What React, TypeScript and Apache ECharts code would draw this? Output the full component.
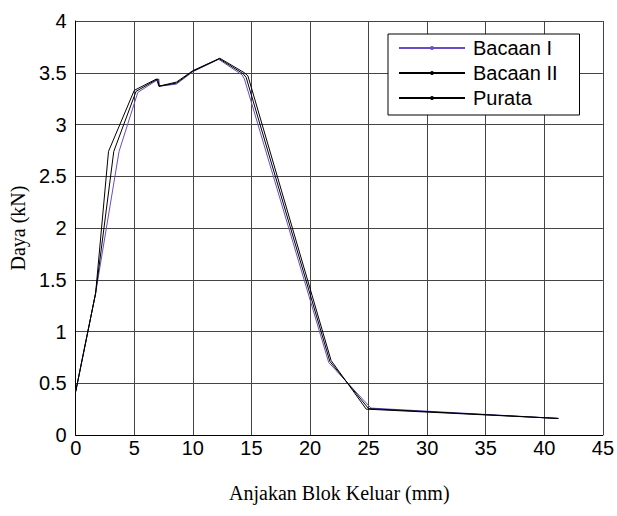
import React, { useEffect, useRef } from "react";
import * as echarts from "echarts";

const seriesNames = ["Bacaan I", "Bacaan II", "Purata"];

const xBacaanI = [0, 1.7, 3.7, 5.3, 7.1, 7.15, 8.6, 10, 12.2, 14.2, 14.4, 21.6, 25.2, 41.2];
const yBacaanI = [0.42, 1.37, 2.74, 3.31, 3.44, 3.37, 3.39, 3.51, 3.63, 3.48, 3.44, 0.7, 0.26, 0.16];

const xBacaanII = [0, 1.7, 2.8, 5.0, 6.9, 7.1, 8.6, 10, 12.3, 14.4, 14.7, 21.8, 24.8, 41.2];
const yBacaanII = [0.42, 1.37, 2.74, 3.33, 3.44, 3.37, 3.41, 3.52, 3.64, 3.5, 3.47, 0.72, 0.25, 0.16];

const xPurata = [0, 1.7, 3.25, 5.15, 7.0, 7.12, 8.6, 10, 12.25, 14.3, 14.55, 21.7, 25.0, 41.2];
const yPurata = [0.42, 1.37, 2.74, 3.32, 3.44, 3.37, 3.4, 3.515, 3.635, 3.49, 3.455, 0.71, 0.255, 0.16];

const xTicks = { min: 0, max: 45, interval: 5 };
const yTicks = { min: 0, max: 4, interval: 0.5 };

const colors = ["#6a4cc4", "#000000", "#000000"];

function pairs(xs: number[], ys: number[]) {
  return xs.map((x, i) => [x, ys[i]]);
}

export default function App() {
  const ref = useRef<HTMLDivElement>(null);
  useEffect(() => {
    document.body.style.margin = "0";
    if (!ref.current) return;
    const chart = echarts.init(ref.current, null, { renderer: "svg" });
    const sans = "Liberation Sans";
    const serif = "Liberation Serif";
    const dataSets = [
      pairs(xBacaanI, yBacaanI),
      pairs(xBacaanII, yBacaanII),
      pairs(xPurata, yPurata),
    ];
    chart.setOption({
      animation: false,
      backgroundColor: "#ffffff",
      grid: { left: 71, right: 10, top: 21, bottom: 81, containLabel: false },
      legend: {
        orient: "vertical",
        left: 388,
        top: 34,
        padding: [4, 22, 7, 10],
        itemGap: 5,
        itemWidth: 66,
        itemHeight: 5,
        borderColor: "#000",
        borderWidth: 1,
        backgroundColor: "#fff",
        data: seriesNames,
        textStyle: {
          fontFamily: sans,
          fontSize: 20,
          lineHeight: 20,
          color: "#000",
          padding: [0, 0, 0, 3],
        },
      },
      xAxis: {
        type: "value",
        min: xTicks.min,
        max: xTicks.max,
        interval: xTicks.interval,
        name: "Anjakan Blok Keluar (mm)",
        nameLocation: "middle",
        nameGap: 48,
        nameTextStyle: { fontFamily: serif, fontSize: 20, color: "#000" },
        axisLine: { show: true, onZero: false, lineStyle: { color: "#000", width: 1 } },
        axisTick: { show: false },
        axisLabel: { fontFamily: sans, fontSize: 20, color: "#000", margin: 3 },
        splitLine: { show: true, lineStyle: { color: "#444", width: 1 } },
      },
      yAxis: {
        type: "value",
        min: yTicks.min,
        max: yTicks.max,
        interval: yTicks.interval,
        name: "Daya (kN)",
        nameLocation: "middle",
        nameGap: 44,
        nameRotate: 90,
        nameTextStyle: { fontFamily: serif, fontSize: 20, color: "#000" },
        axisLine: { show: true, onZero: false, lineStyle: { color: "#000", width: 1 } },
        axisTick: { show: false },
        axisLabel: { fontFamily: sans, fontSize: 20, color: "#000", margin: 9 },
        splitLine: { show: true, lineStyle: { color: "#444", width: 1 } },
      },
      series: seriesNames.map((name, i) => ({
        name,
        type: "line",
        data: dataSets[i],
        color: colors[i],
        showSymbol: false,
        symbol: "circle",
        symbolSize: 3,
        lineStyle: { color: colors[i], width: 1 },
        itemStyle: { color: colors[i] },
        emphasis: { disabled: true },
        z: i === 0 ? 2 : 3,
      })),
    });
    return () => chart.dispose();
  }, []);
  return <div ref={ref} style={{ width: 617, height: 516 }} />;
}
